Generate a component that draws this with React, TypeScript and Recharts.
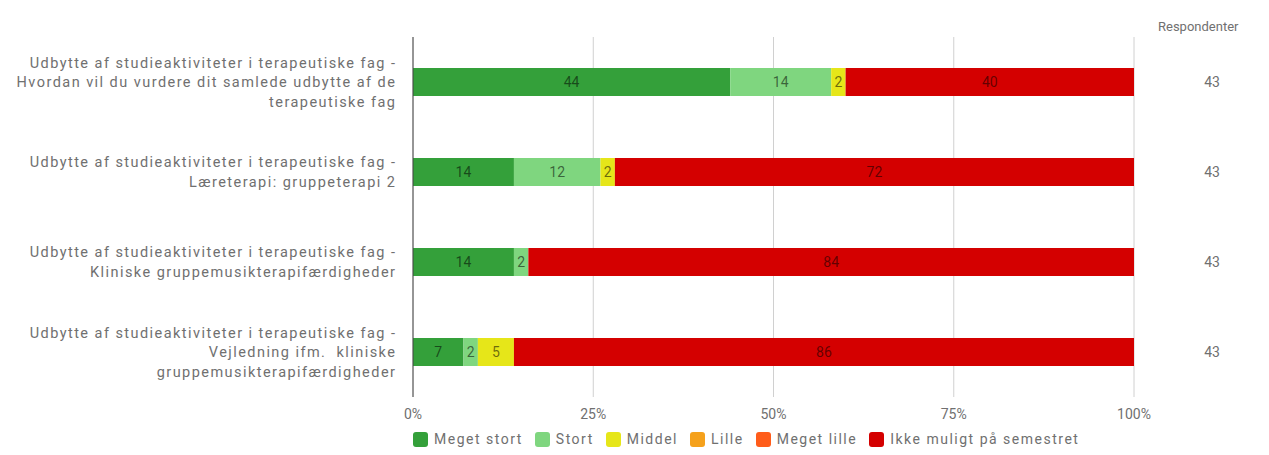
import React from "react";
import { BarChart, Bar, XAxis, YAxis, CartesianGrid, LabelList } from "recharts";

const categories = [
  "Udbytte af studieaktiviteter i terapeutiske fag -\nHvordan vil du vurdere dit samlede udbytte af de\nterapeutiske fag",
  "Udbytte af studieaktiviteter i terapeutiske fag -\nLæreterapi: gruppeterapi 2",
  "Udbytte af studieaktiviteter i terapeutiske fag -\nKliniske gruppemusikterapifærdigheder",
  "Udbytte af studieaktiviteter i terapeutiske fag -\nVejledning ifm.  kliniske\ngruppemusikterapifærdigheder",
];
const megetStort = [44, 14, 14, 7];
const stort = [14, 12, 2, 2];
const middel = [2, 2, 0, 5];
const lille = [0, 0, 0, 0];
const megetLille = [0, 0, 0, 0];
const ikkeMuligt = [40, 72, 84, 86];
const respondents = [43, 43, 43, 43];
const xTicks = [0, 25, 50, 75, 100];

const seriesKeys = ["megetStort", "stort", "middel", "lille", "megetLille", "ikkeMuligt"];
const seriesNames = ["Meget stort", "Stort", "Middel", "Lille", "Meget lille", "Ikke muligt på semestret"];
const seriesColors = ["#34a03a", "#7fd67f", "#e6e619", "#f5a11c", "#ff5c1a", "#d40000"];
const seriesValues = [megetStort, stort, middel, lille, megetLille, ikkeMuligt];

const data = categories.map((name, i) => {
  const row: any = { name };
  seriesKeys.forEach((k, j) => {
    row[k] = seriesValues[j][i];
  });
  return row;
});

const FONT = "Roboto, 'Noto Sans', sans-serif";
const TEXT = "#707070";

const LeftTick = (props: any) => {
  const { x, y, payload } = props;
  const lines = String(payload.value).split("\n");
  const lh = 19.5;
  const start = -((lines.length - 1) / 2) * lh + 5;
  return (
    <text
      x={x + 1.4}
      y={y}
      textAnchor="end"
      fill={TEXT}
      fontSize={14.5}
      fontFamily={FONT}
      style={{ letterSpacing: "1.45px", whiteSpace: "pre" }}
    >
      {lines.map((l, i) => (
        <tspan key={i} x={x + 1.4} dy={i === 0 ? start : lh}>
          {l}
        </tspan>
      ))}
    </text>
  );
};

const RightTick = (props: any) => {
  const { x, y, payload } = props;
  return (
    <text x={x + 78} y={y + 5} textAnchor="middle" fill={TEXT} fontSize={14} fontFamily={FONT}>
      {respondents[payload.index]}
    </text>
  );
};

const labelFmt = (v: any) => (v && v > 0 ? v : "");

export default function App() {
  return (
    <div style={{ position: "absolute", left: 0, top: 0, width: 1269, height: 455, background: "#fff" }}>
      <BarChart
        width={1269}
        height={455}
        data={data}
        layout="vertical"
        margin={{ top: 37, right: 0, bottom: 0, left: 0 }}
        barSize={28}
      >
        <CartesianGrid horizontal={false} stroke="#d0d0d0" />
        <XAxis
          type="number"
          domain={[0, 100]}
          ticks={xTicks}
          tickFormatter={(v: number) => `${v}%`}
          axisLine={false}
          tickLine={false}
          tick={{ fill: TEXT, fontSize: 14, fontFamily: FONT }}
          tickMargin={6}
          height={58}
        />
        <YAxis
          yAxisId="left"
          type="category"
          dataKey="name"
          width={413}
          tickLine={false}
          tickSize={0}
          tickMargin={18}
          axisLine={{ stroke: "#444" }}
          tick={<LeftTick />}
          interval={0}
        />
        <YAxis
          yAxisId="right"
          orientation="right"
          type="category"
          dataKey="name"
          width={135}
          tickLine={false}
          axisLine={false}
          tickSize={0}
          tickMargin={0}
          tick={<RightTick />}
          interval={0}
        />
        {seriesKeys.map((k, j) => (
          <Bar
            key={k}
            yAxisId="left"
            dataKey={k}
            name={seriesNames[j]}
            stackId="a"
            fill={seriesColors[j]}
            isAnimationActive={false}
          >
            <LabelList
              dataKey={k}
              position="center"
              formatter={labelFmt}
              fill="rgba(0,0,0,0.55)"
              fontSize={14}
              fontFamily={FONT}
            />
          </Bar>
        ))}
      </BarChart>
      <div
        style={{
          position: "absolute",
          left: 1158,
          top: 19,
          fontFamily: FONT,
          fontSize: 13,
          color: TEXT,
        }}
      >
        Respondenter
      </div>
      <div
        style={{
          position: "absolute",
          left: 413,
          top: 431,
          display: "flex",
          gap: 12,
          fontFamily: FONT,
          fontSize: 14,
          color: TEXT,
          whiteSpace: "nowrap",
          letterSpacing: "1.5px",
        }}
      >
        {seriesNames.map((n, j) => (
          <div key={n} style={{ display: "flex", alignItems: "center", gap: 6 }}>
            <span
              style={{
                display: "inline-block",
                width: 15,
                height: 15,
                borderRadius: 3,
                background: seriesColors[j],
              }}
            />
            <span>{n}</span>
          </div>
        ))}
      </div>
    </div>
  );
}
